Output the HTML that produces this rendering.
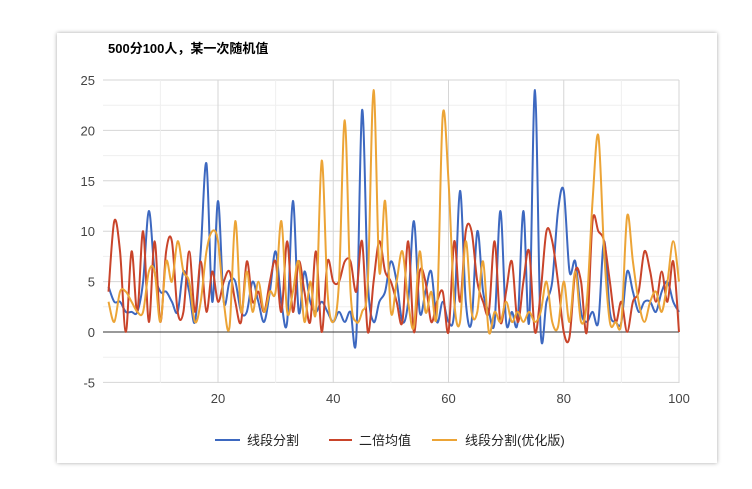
<!DOCTYPE html>
<html><head><meta charset="utf-8"><style>
body{margin:0;background:#fff;width:752px;height:489px;overflow:hidden;font-family:"Liberation Sans","Noto Sans CJK SC",sans-serif}
.card{position:absolute;left:57px;top:33px;width:660px;height:430px;background:#fff;box-shadow:0 0 4px rgba(0,0,0,.35)}
</style></head><body>
<div class="card"></div>
<svg id="s" width="752" height="489" style="position:absolute;left:0;top:0" font-family="Liberation Sans, Noto Sans CJK SC, sans-serif">
<text x="108" y="53" font-size="13" font-weight="bold" fill="#000">500分100人，某一次随机值</text>
<g id="grid"></g>
<g id="lines" fill="none" stroke-width="2"></g>
<g font-size="13" fill="#222">
<line x1="215" y1="440" x2="240" y2="440" stroke="#3d68c0" stroke-width="2"/><text x="247" y="445">线段分割</text>
<line x1="329" y1="440" x2="352" y2="440" stroke="#c9442a" stroke-width="2"/><text x="359" y="445">二倍均值</text>
<line x1="432" y1="440" x2="457" y2="440" stroke="#eca436" stroke-width="2"/><text x="465" y="445">线段分割(优化版)</text>
</g>
</svg>
<script>
var X=function(i){return 102.75+5.7625*i},Y=function(v){return 332-10.08*v};
var g='';
for(var v=-5;v<=25;v+=2.5){var maj=v%5==0;g+='<line x1="103" x2="679" y1="'+Y(v)+'" y2="'+Y(v)+'" stroke="'+(maj?'#d6d6d6':'#efefef')+'" stroke-width="1"/>';
if(maj)g+='<text x="95" y="'+(Y(v)+5)+'" font-size="13" fill="#444" text-anchor="end">'+v+'</text>';}
for(var i=10;i<=100;i+=10){var maj=i%20==0;g+='<line y1="80" y2="383" x1="'+X(i)+'" x2="'+X(i)+'" stroke="'+(maj?'#d6d6d6':'#efefef')+'" stroke-width="1"/>';
if(maj)g+='<text x="'+X(i)+'" y="403" font-size="13" fill="#444" text-anchor="middle">'+i+'</text>';}
g+='<line x1="103" x2="679" y1="332" y2="332" stroke="#333" stroke-width="1"/>';
document.getElementById('grid').innerHTML=g;
var B=[4.5,3,3,2,2,2,5,12,6,4,4,3,2,6,4,1,8,16.7,3,13,3,5,5,2,2,5,3,1,4,8,3,1,13,2,6,3,2,3,2,1,2,1,2,-0.5,22,5,1,3,4,7,5,1,3,11,2,4,6,1,3,1,2,14,3,1,10,4,2,1,12,1,2,1,12,1,24,0,3,5,12,14,6,7,2,1,2,1,9,2,1,1,6,4,2,3,3,2,4,5,3,2];
var R=[4,11,8,0,8,2,10,1,9,1,8,9,2,2,8,2,7,2,6,3,5,6,3,1,7,3,4,2,5,7,2,9,2,7,4,1,8,0,7,5,5,7,7,4,9,0,5,9,6,5,3,1,9,0,6,5,1,3,4,0,9,3,10,10,5,3,2,9,1,4,7,1,5,8,0,4,10,9,5,0,-0.5,6,5,0,11,10,9,5,1,3,0,3,4,8,6,3,6,3,7,0];
var O=[3,1,4,4,3,2,2,6,6,1,7,5,9,6,5,1,3,8,10,9,3,0.5,11,2,6,2,5,2,4,4,11,2,4,7,1,5,2,17,4,1,5,21,4,1,2,5,24,6,13,2,5,8,3,0.5,8,2,4,2,21.5,15,3,1,9,2,2,7,0,2,1,3,1,2,1,2,1,2,5,1,0.5,5,1,6,1,3,13,19.5,8,1,1,1,11.5,7,3,1,3,4,2,5,9,5];
function path(d){var p=d.map(function(v,i){return [X(i+1),Y(v)]});var s='M'+p[0][0]+','+p[0][1];
for(var i=0;i<p.length-1;i++){var p0=p[i-1]||p[i],p1=p[i],p2=p[i+1],p3=p[i+2]||p2;
s+=' C'+(p1[0]+(p2[0]-p0[0])/6)+','+(p1[1]+(p2[1]-p0[1])/6)+' '+(p2[0]-(p3[0]-p1[0])/6)+','+(p2[1]-(p3[1]-p1[1])/6)+' '+p2[0]+','+p2[1];}return s;}
document.getElementById('lines').innerHTML='<path d="'+path(B)+'" stroke="#3d68c0"/><path d="'+path(R)+'" stroke="#c9442a"/><path d="'+path(O)+'" stroke="#eca436"/>';
</script>
</body></html>
